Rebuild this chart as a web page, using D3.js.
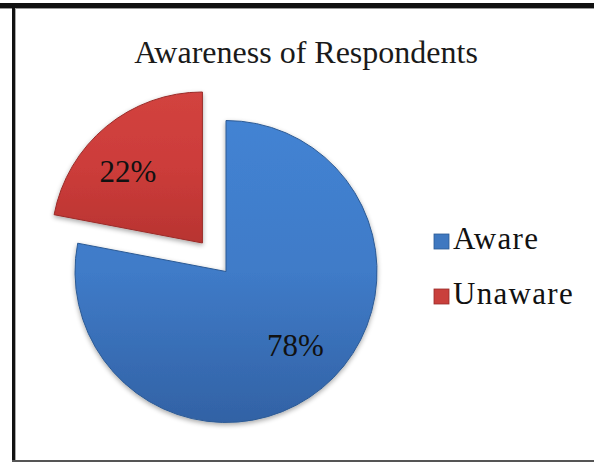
<!DOCTYPE html>
<html><head><meta charset="utf-8">
<script src="https://cdn.jsdelivr.net/npm/d3@7"></script>
<style>body{margin:0;background:#fff}svg{display:block}</style>
</head><body>
<script>
const categories = ["Aware", "Unaware"];
const values = [78, 22];
const colors = ["#3f78c0", "#c9403c"];
const title = "Awareness of Respondents";

const W = 594, H = 464;
const svg = d3.select("body").append("svg").attr("width", W).attr("height", H);

const defs = svg.append("defs");
const grads = [["#4383d3", "#3f7bc8", "#3262a5"], ["#d2433f", "#cc3c3a", "#b83431"]];
grads.forEach((g, i) => {
  const lg = defs.append("linearGradient").attr("id", "g" + i)
    .attr("x1", 0).attr("y1", 0).attr("x2", 0).attr("y2", 1);
  lg.append("stop").attr("offset", "0%").attr("stop-color", g[0]);
  lg.append("stop").attr("offset", "50%").attr("stop-color", g[1]);
  lg.append("stop").attr("offset", "100%").attr("stop-color", g[2]);
});
const f = defs.append("filter").attr("id", "sh").attr("x", "-20%").attr("y", "-20%").attr("width", "140%").attr("height", "140%");
f.append("feGaussianBlur").attr("in", "SourceAlpha").attr("stdDeviation", 2.5);
f.append("feOffset").attr("dx", 0).attr("dy", 2).attr("result", "b");
f.append("feComponentTransfer").append("feFuncA").attr("type", "linear").attr("slope", 0.35);
const fm = f.append("feMerge"); fm.append("feMergeNode"); fm.append("feMergeNode").attr("in", "SourceGraphic");

// frame
svg.append("rect").attr("x", 0).attr("y", 3).attr("width", W).attr("height", 5).attr("fill", "#111");
svg.append("rect").attr("x", 0).attr("y", 8).attr("width", W).attr("height", 1).attr("fill", "#999");
svg.append("rect").attr("x", 12).attr("y", 3).attr("width", 3).attr("height", 459).attr("fill", "#111");
svg.append("rect").attr("x", 15).attr("y", 8).attr("width", 1).attr("height", 454).attr("fill", "#aaa");
svg.append("rect").attr("x", 12).attr("y", 460).attr("width", W).attr("height", 2).attr("fill", "#555");

svg.append("text").attr("x", 306).attr("y", 63).attr("text-anchor", "middle")
  .attr("font-family", "Liberation Serif, Times New Roman, serif").attr("font-size", 32)
  .attr("fill", "#1a1a1a").text(title);

const cx = 226, cy = 271.5, r = 151, explode = 37;
const pie = d3.pie().sort(null)(values);
const arc = d3.arc().innerRadius(0).outerRadius(r);
const g = svg.append("g").attr("transform", `translate(${cx},${cy})`);
pie.forEach((d, i) => {
  const mid = (d.startAngle + d.endAngle) / 2;
  const off = i === 1 ? explode : 0;
  const dx = Math.sin(mid) * off, dy = -Math.cos(mid) * off;
  const sg = g.append("g").attr("transform", `translate(${dx},${dy})`);
  sg.append("path").attr("d", arc(d)).attr("fill", `url(#g${i})`)
    .attr("stroke", i === 0 ? "#2c5a94" : "#9a2c29").attr("stroke-width", 1)
    .attr("filter", "url(#sh)");
  const lr = r * 0.67;
  sg.append("text").attr("x", Math.sin(mid) * lr + (i === 1 ? -10 : 5))
    .attr("y", -Math.cos(mid) * lr + 10 + (i === 1 ? 7 : -3))
    .attr("text-anchor", "middle")
    .attr("font-family", "Liberation Serif, Times New Roman, serif").attr("font-size", 31)
    .attr("fill", "#111").text(d.data + "%");
});

const lg = svg.append("g");
categories.forEach((c, i) => {
  const y = 249 + i * 55;
  lg.append("rect").attr("x", 434).attr("y", y - 15).attr("width", 15).attr("height", 15)
    .attr("fill", colors[i]).attr("stroke", i === 0 ? "#2c5a94" : "#9a2c29").attr("stroke-width", 0.8);
  lg.append("text").attr("x", 453).attr("y", y)
    .attr("font-family", "Liberation Serif, Times New Roman, serif").attr("font-size", 31)
    .attr("letter-spacing", 1.3).attr("fill", "#111").text(c);
});
</script>
</body></html>
